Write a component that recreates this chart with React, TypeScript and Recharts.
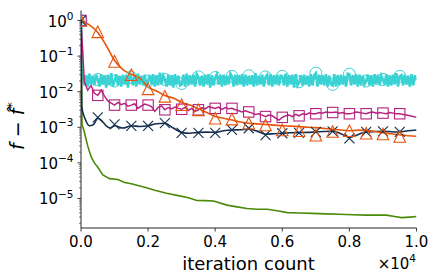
import React from 'react';
import { ComposedChart, Line, Scatter, XAxis, YAxis } from 'recharts';

// ---------------- data ----------------
const X_TICKS = [0, 2000, 4000, 6000, 8000, 10000];
const X_TICK_LABELS = ['0.0', '0.2', '0.4', '0.6', '0.8', '1.0'];
const Y_MAJOR = [1, 0.1, 0.01, 0.001, 0.0001, 0.00001];
const Y_MAJOR_EXP = ['0', '−1', '−2', '−3', '−4', '−5'];
const Y_DOMAIN: [number, number] = [1.48e-6, 1.91];

const MARK_ITER = [0, 500, 1000, 1500, 2000, 2500, 3000, 3500, 4000, 4500, 5000, 5500, 6000, 6500, 7000, 7500, 8000, 8500, 9000, 9500];
const TRI_VAL = [1.0, 0.48, 0.071, 0.030, 0.012, 0.0074, 0.0043, 0.0031, 0.0018, 0.0017, 0.0013, 0.00116, 0.00084, 0.0008, 0.0006, 0.00076, 0.0008, 0.00068, 0.00065, 0.00055];
const SQ_VAL = [1.0, 0.0079, 0.0042, 0.0042, 0.0042, 0.0031, 0.0032, 0.0031, 0.0034, 0.0034, 0.0027, 0.0020, 0.0019, 0.0021, 0.0024, 0.0026, 0.0024, 0.0024, 0.0025, 0.0024];
const X_VAL = [1.0, 0.0019, 0.0012, 0.0011, 0.0011, 0.0013, 0.0007, 0.0007, 0.0007, 0.00084, 0.00094, 0.0006, 0.00068, 0.0007, 0.00074, 0.00077, 0.00049, 0.00074, 0.00077, 0.00074];
const CIRC_VAL = [1.0, 0.022, 0.020, 0.025, 0.020, 0.022, 0.017, 0.026, 0.025, 0.027, 0.028, 0.026, 0.027, 0.019, 0.033, 0.016, 0.031, 0.020, 0.022, 0.027];

const ORANGE_ITER = [0, 250, 500, 750, 1000, 1250, 1500, 1750, 2000, 2250, 2500, 2750, 3000, 3250, 3500, 3750, 4000, 4250, 4500, 4750, 5000, 5250, 5500, 5750, 6000, 6250, 6500, 6750, 7000, 7250, 7500, 7750, 8000, 8250, 8500, 8750, 9000, 9250, 9500, 9750, 10000];
const ORANGE_VAL = [1.0, 0.75, 0.46, 0.20, 0.075, 0.042, 0.031, 0.024, 0.0135, 0.0105, 0.0078, 0.0066, 0.0050, 0.0042, 0.0033, 0.0026, 0.0020, 0.0018, 0.0016, 0.0014, 0.0013, 0.00125, 0.0012, 0.00115, 0.0011, 0.00108, 0.00105, 0.0010, 0.00098, 0.00093, 0.00088, 0.00084, 0.0008, 0.00083, 0.00082, 0.00076, 0.0007, 0.00066, 0.00062, 0.00058, 0.00056];

const NAVY_ITER = [0, 20, 125, 250, 375, 500, 625, 750, 875, 1000, 1250, 1500, 1750, 2000, 2250, 2500, 2750, 3000, 3250, 3500, 3750, 4000, 4250, 4500, 4750, 5000, 5250, 5500, 5750, 6000, 6250, 6500, 6750, 7000, 7250, 7500, 7750, 8000, 8250, 8500, 8750, 9000, 9250, 9500, 9750, 10000];
const NAVY_VAL = [1.0, 0.0038, 0.0017, 0.0011, 0.0012, 0.0018, 0.0015, 0.0011, 0.00095, 0.0011, 0.00095, 0.0011, 0.00105, 0.0011, 0.00125, 0.0013, 0.00095, 0.00072, 0.00068, 0.00072, 0.00073, 0.00072, 0.0008, 0.00084, 0.00085, 0.00088, 0.00078, 0.00064, 0.00066, 0.00068, 0.0007, 0.00071, 0.00072, 0.00074, 0.00076, 0.00077, 0.00066, 0.00052, 0.00062, 0.00074, 0.00076, 0.00077, 0.00075, 0.00074, 0.0008, 0.00084];

const GREEN_ITER = [0, 30, 90, 200, 300, 400, 500, 650, 850, 1100, 1300, 1500, 1700, 1950, 2200, 2550, 2900, 3200, 3450, 3700, 3950, 4350, 4650, 4950, 5250, 5550, 5850, 6150, 6500, 6900, 7300, 7700, 8100, 8500, 8800, 9100, 9350, 9550, 9800, 10000];
const GREEN_VAL = [1.0, 0.0012, 0.0008, 0.0003, 0.00015, 0.0001, 0.000075, 0.000046, 0.000036, 0.000034, 0.000028, 0.000026, 0.000023, 0.00002, 0.000017, 0.000014, 0.000012, 0.0000105, 0.0000088, 0.0000087, 0.0000085, 0.0000065, 0.0000058, 0.0000052, 0.000005, 0.000005, 0.0000045, 0.000004, 0.0000039, 0.0000038, 0.0000037, 0.0000036, 0.0000035, 0.0000034, 0.0000034, 0.0000034, 0.0000031, 0.0000029, 0.000003, 0.0000031];

const MAGENTA_STEP = 100;
const MAGENTA_VAL = [
  1.0, 0.019, 0.011, 0.015, 0.009, 0.0079, 0.011, 0.0075, 0.0055, 0.0048,
  0.0042, 0.0050, 0.0043, 0.0047, 0.0039, 0.0042, 0.0046, 0.0034, 0.0040, 0.0045,
  0.0042, 0.0038, 0.0028, 0.0036, 0.0040, 0.0031, 0.0036, 0.0033, 0.0037, 0.0034,
  0.0032, 0.0036, 0.0030, 0.0034, 0.0028, 0.0031, 0.0035, 0.0033, 0.0038, 0.0036,
  0.0034, 0.0037, 0.0032, 0.0036, 0.0033, 0.0034, 0.0031, 0.0029, 0.0027, 0.0029,
  0.0027, 0.0025, 0.0023, 0.0024, 0.0022, 0.0020, 0.0022, 0.0021, 0.0018, 0.0016,
  0.0019, 0.0021, 0.0022, 0.0020, 0.0023, 0.0021, 0.0024, 0.0023, 0.0025, 0.0024,
  0.0024, 0.0026, 0.0025, 0.0027, 0.0026, 0.0026, 0.0027, 0.0025, 0.0026, 0.0024,
  0.0024, 0.0025, 0.0027, 0.0026, 0.0025, 0.0024, 0.0026, 0.0027, 0.0025, 0.0026,
  0.0025, 0.0024, 0.0026, 0.0025, 0.0024, 0.0024, 0.0023, 0.0022, 0.0021, 0.0020,
  0.0019,
];

const CYAN_STEP = 50;
const CYAN_VAL = [
  1.0,
  0.030, 0.015, 0.029, 0.014, 0.032, 0.016, 0.028, 0.015, 0.030, 0.022,
  0.014, 0.031, 0.016, 0.029, 0.013, 0.030, 0.015, 0.033, 0.014, 0.020,
  0.031, 0.015, 0.028, 0.014, 0.030, 0.016, 0.029, 0.013, 0.031, 0.025,
  0.015, 0.030, 0.014, 0.032, 0.016, 0.028, 0.015, 0.030, 0.014, 0.020,
  0.029, 0.016, 0.031, 0.014, 0.029, 0.015, 0.034, 0.016, 0.028, 0.022,
  0.014, 0.030, 0.015, 0.029, 0.013, 0.031, 0.016, 0.028, 0.015, 0.016,
  0.030, 0.014, 0.032, 0.015, 0.029, 0.016, 0.030, 0.014, 0.031, 0.026,
  0.015, 0.028, 0.014, 0.030, 0.016, 0.031, 0.013, 0.029, 0.015, 0.025,
  0.031, 0.016, 0.029, 0.014, 0.030, 0.015, 0.028, 0.016, 0.032, 0.027,
  0.014, 0.030, 0.015, 0.029, 0.016, 0.031, 0.014, 0.030, 0.015, 0.028,
  0.016, 0.029, 0.014, 0.033, 0.015, 0.028, 0.016, 0.030, 0.014, 0.026,
  0.030, 0.015, 0.031, 0.014, 0.029, 0.016, 0.030, 0.015, 0.028, 0.027,
  0.015, 0.032, 0.014, 0.029, 0.016, 0.030, 0.013, 0.031, 0.015, 0.018,
  0.029, 0.015, 0.030, 0.016, 0.028, 0.014, 0.031, 0.015, 0.029, 0.033,
  0.014, 0.030, 0.016, 0.029, 0.015, 0.031, 0.014, 0.028, 0.016, 0.015,
  0.031, 0.014, 0.029, 0.015, 0.030, 0.016, 0.028, 0.014, 0.032, 0.031,
  0.015, 0.029, 0.016, 0.031, 0.014, 0.030, 0.015, 0.028, 0.016, 0.020,
  0.030, 0.015, 0.029, 0.014, 0.031, 0.016, 0.030, 0.015, 0.028, 0.022,
  0.016, 0.031, 0.014, 0.029, 0.015, 0.030, 0.016, 0.033, 0.014, 0.027,
  0.029, 0.015, 0.030, 0.016, 0.028, 0.014, 0.031, 0.015, 0.029, 0.021,
];

// ---------------- styling ----------------
const ORANGE = '#E6550D';
const MAGENTA = '#B5237F';
const CYAN = '#3BD2D4';
const NAVY = '#132E4F';
const GREEN = '#4A8A08';
const AXIS = '#262626';
const FONT = '"DejaVu Sans", sans-serif';

const pairs = (xs: number[], ys: number[]) => xs.map((x, i) => ({ x, y: ys[i] }));
const stepped = (step: number, ys: number[]) => ys.map((y, i) => ({ x: i * step, y }));

const orangeData = pairs(ORANGE_ITER, ORANGE_VAL);
const navyData = pairs(NAVY_ITER, NAVY_VAL);
const greenData = pairs(GREEN_ITER, GREEN_VAL);
const magentaData = stepped(MAGENTA_STEP, MAGENTA_VAL);
const cyanData = stepped(CYAN_STEP, CYAN_VAL);
const triData = pairs(MARK_ITER, TRI_VAL);
const sqData = pairs(MARK_ITER, SQ_VAL);
const xData = pairs(MARK_ITER, X_VAL);
const circData = pairs(MARK_ITER, CIRC_VAL);

const yMinor: number[] = [];
Y_MAJOR.concat([0.000001]).forEach((d) => {
  for (let k = 2; k <= 9; k++) {
    const v = d * k;
    if (v > Y_DOMAIN[0] && v < Y_DOMAIN[1] && v < 1) yMinor.push(v);
  }
});
const Y_TICKS = [...Y_MAJOR, ...yMinor];

const YTick = (props: any) => {
  const { x, y, payload } = props;
  const v = payload.value;
  const idx = Y_MAJOR.findIndex((m) => Math.abs(m - v) / m < 1e-6);
  const major = idx >= 0;
  return (
    <g>
      <line x1={x - (major ? 3.5 : 2)} x2={x} y1={y} y2={y} stroke={AXIS} strokeWidth={major ? 0.9 : 0.6} />
      {major && (
        <text x={x - 7.5} y={y + 6} textAnchor="end" fontFamily={FONT} fontSize={15} fill="#000">
          <tspan>10</tspan>
          <tspan dy={-6.8} fontSize={10.5}>{Y_MAJOR_EXP[idx]}</tspan>
        </text>
      )}
    </g>
  );
};

const XTick = (props: any) => {
  const { x, y, payload } = props;
  const idx = X_TICKS.indexOf(payload.value);
  return (
    <g>
      <line x1={x} x2={x} y1={y} y2={y + 3.5} stroke={AXIS} strokeWidth={0.9} />
      <text x={x} y={y + 19} textAnchor="middle" fontFamily={FONT} fontSize={15} fill="#000">
        {X_TICK_LABELS[idx]}
      </text>
    </g>
  );
};

const triShape = (color: string) => (p: any) => {
  const { cx, cy } = p;
  const s = 5.8;
  return <polygon points={`${cx},${cy - s} ${cx - s},${cy + s} ${cx + s},${cy + s}`} fill="none" stroke={color} strokeWidth={1.1} />;
};
const sqShape = (color: string) => (p: any) => {
  const { cx, cy } = p;
  const s = 5.2;
  return <rect x={cx - s} y={cy - s} width={2 * s} height={2 * s} fill="none" stroke={color} strokeWidth={1.1} />;
};
const xShape = (color: string) => (p: any) => {
  const { cx, cy } = p;
  const s = 5;
  return (
    <g stroke={color} strokeWidth={1.1}>
      <line x1={cx - s} y1={cy - s} x2={cx + s} y2={cy + s} />
      <line x1={cx - s} y1={cy + s} x2={cx + s} y2={cy - s} />
    </g>
  );
};
const circShape = (color: string) => (p: any) => {
  const { cx, cy } = p;
  return <circle cx={cx} cy={cy} r={6} fill="none" stroke={color} strokeWidth={1} />;
};

const XLabels = (props: any) => (
  <g fontFamily={FONT} fill="#000">
    <text x={248.5} y={270} textAnchor="middle" fontSize={18}>iteration count</text>
    <text x={416} y={269.3} textAnchor="end" fontSize={15}>
      <tspan>×10</tspan>
      <tspan dy={-7.5} fontSize={10.5}>4</tspan>
    </text>
  </g>
);

const YLabel = (props: any) => (
  <text transform="translate(24,126) rotate(-90)" textAnchor="middle" fontFamily={FONT} fontSize={19} fill="#000" fontStyle="italic">
    <tspan>f</tspan>
    <tspan fontStyle="normal"> − </tspan>
    <tspan>f̂</tspan>
    <tspan dy={-8} fontSize={13}>*</tspan>
  </text>
);

export default function App() {
  return (
    <div style={{ position: 'absolute', left: 0, top: 0, width: 436, height: 280, background: '#fff' }}>
      <ComposedChart width={436} height={280} margin={{ top: 10.5, right: 19.5, bottom: 0, left: 0 }}>
        <XAxis
          xAxisId={0}
          dataKey="x"
          type="number"
          domain={[0, 10000]}
          ticks={X_TICKS}
          interval={0}
          allowDataOverflow
          height={52}
          tickSize={0}
          tickMargin={0}
          tickLine={false}
          axisLine={{ stroke: AXIS, strokeWidth: 1 }}
          tick={<XTick />}
          label={{ content: <XLabels /> }}
        />
        <XAxis xAxisId="top" orientation="top" type="number" domain={[0, 1]} height={0} tick={false} tickLine={false} axisLine={{ stroke: AXIS, strokeWidth: 1 }} />
        <YAxis
          yAxisId={0}
          dataKey="y"
          type="number"
          scale="log"
          domain={Y_DOMAIN}
          allowDataOverflow
          ticks={Y_TICKS}
          interval={0}
          width={81}
          tickSize={0}
          tickMargin={0}
          tickLine={false}
          axisLine={{ stroke: AXIS, strokeWidth: 1 }}
          tick={<YTick />}
          label={{ content: <YLabel /> }}
        />
        <YAxis yAxisId="right" orientation="right" type="number" domain={[0, 1]} width={0} tick={false} tickLine={false} axisLine={{ stroke: AXIS, strokeWidth: 1 }} />

        <Line data={cyanData} dataKey="y" type="linear" stroke={CYAN} strokeWidth={2.6} dot={false} isAnimationActive={false} />
        <Line data={greenData} dataKey="y" type="linear" stroke={GREEN} strokeWidth={1.6} dot={false} isAnimationActive={false} />
        <Line data={magentaData} dataKey="y" type="linear" stroke={MAGENTA} strokeWidth={1.5} dot={false} isAnimationActive={false} />
        <Line data={navyData} dataKey="y" type="monotone" stroke={NAVY} strokeWidth={1.6} dot={false} isAnimationActive={false} />
        <Line data={orangeData} dataKey="y" type="monotone" stroke={ORANGE} strokeWidth={1.6} dot={false} isAnimationActive={false} />

        <Scatter data={circData} dataKey="y" shape={circShape(CYAN)} isAnimationActive={false} />
        <Scatter data={sqData} dataKey="y" shape={sqShape(MAGENTA)} isAnimationActive={false} />
        <Scatter data={xData} dataKey="y" shape={xShape(NAVY)} isAnimationActive={false} />
        <Scatter data={triData} dataKey="y" shape={triShape(ORANGE)} isAnimationActive={false} />
      </ComposedChart>
    </div>
  );
}
